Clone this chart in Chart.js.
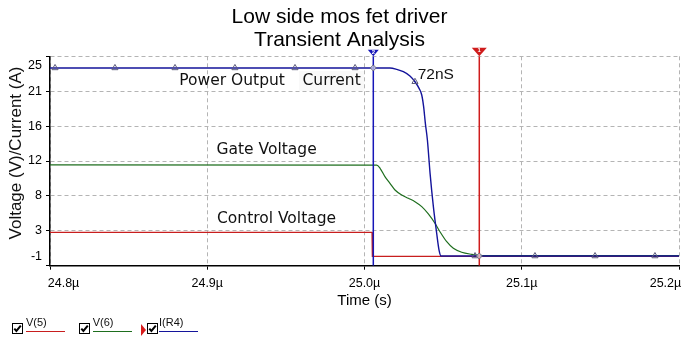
<!DOCTYPE html>
<html>
<head>
<meta charset="utf-8">
<script src="https://cdn.jsdelivr.net/npm/chart.js@4.4.1/dist/chart.umd.min.js"></script>
<style>
  html, body { margin: 0; padding: 0; background: #fff; }
  #wrap { position: relative; width: 690px; height: 344px; overflow: hidden; }
  #graph { position: absolute; left: 0; top: 0; }
  .txt { position: absolute; white-space: nowrap; line-height: 1; color: #111; }
  .note { font-family: 'DejaVu Sans', sans-serif; font-size: 15.5px; }
  .arial { font-family: 'Liberation Sans', Arial, sans-serif; }
  .ytitle { font-size: 17px; transform: translate(-50%, -50%) rotate(-90deg); }
  .cb { position: absolute; top: 323px; width: 11px; height: 11px; }
  .lg { font-size: 11px; top: 317px; }
  .lgline { position: absolute; top: 330.5px; height: 1.4px; width: 39px; }
  .flag { position: absolute; left: 140.5px; top: 323.5px; width: 0; height: 0;
          border-top: 6px solid transparent; border-bottom: 6px solid transparent; border-left: 5.5px solid #d81c1c; }
</style>
</head>
<body>
<div id="wrap">
  <canvas id="graph" width="690" height="344"></canvas>

  <div class="txt arial ytitle" style="left:14.7px; top:152.5px;">Voltage (V)/Current (A)</div>

  <div class="txt note" style="left:179.3px; top:73.2px;">Power Output</div>
  <div class="txt note" style="left:299px; top:71px; padding:2px 3.5px; background:rgba(0,0,0,0.022);">Current</div>
  <div class="txt note" style="left:216.5px; top:142px;">Gate Voltage</div>
  <div class="txt note" style="left:217px; top:211px;">Control Voltage</div>
  <div class="txt arial" style="left:417.7px; top:66px; font-size:15.5px;">72nS</div>

  <svg class="cb" style="left:11.5px;" viewBox="0 0 11 11"><rect x="0.5" y="0.5" width="10" height="10" fill="#fff" stroke="#000"/><polyline points="2.3,5.6 4.4,8 8.8,2.6" fill="none" stroke="#000" stroke-width="2"/></svg>
  <div class="txt arial lg" style="left:26px;">V(5)</div>
  <div class="lgline" style="left:26px; background:#c81e1e;"></div>

  <svg class="cb" style="left:79px;" viewBox="0 0 11 11"><rect x="0.5" y="0.5" width="10" height="10" fill="#fff" stroke="#000"/><polyline points="2.3,5.6 4.4,8 8.8,2.6" fill="none" stroke="#000" stroke-width="2"/></svg>
  <div class="txt arial lg" style="left:92.7px;">V(6)</div>
  <div class="lgline" style="left:93px; background:#1e6e1e;"></div>

  <div class="flag"></div>
  <svg class="cb" style="left:146.5px;" viewBox="0 0 11 11"><rect x="0.5" y="0.5" width="10" height="10" fill="#fff" stroke="#000"/><polyline points="2.3,5.6 4.4,8 8.8,2.6" fill="none" stroke="#000" stroke-width="2"/></svg>
  <div class="txt arial lg" style="left:159px;">I(R4)</div>
  <div class="lgline" style="left:159px; background:#14149b;"></div>
</div>

<script>
// time in microseconds
const ctrlT = [24.8, 25.0048, 25.0050, 25.2];
const ctrlV = [2.8, 2.8, -0.3, -0.3];

const gateT = [24.8, 25.0078, 25.0099, 25.0130, 25.0162, 25.0194, 25.0237, 25.0279, 25.0321, 25.0364,
               25.0406, 25.0448, 25.0480, 25.0523, 25.0565, 25.0618, 25.0682, 25.0734, 25.0830, 25.2];
const gateV = [11.5, 11.48, 11.06, 9.98, 9.12, 8.26, 7.62, 7.19, 6.75, 6.11,
               5.17, 3.97, 2.88, 1.59, 0.74, 0.23, -0.03, -0.16, -0.2, -0.2];

const curT = [24.8, 25.0162, 25.0205, 25.0247, 25.0289, 25.0321, 25.0347, 25.0364, 25.0376, 25.0387,
              25.0400, 25.0417, 25.0438, 25.0459, 25.0474, 25.0487, 25.2];
const curV = [24.0, 24.0, 23.82, 23.51, 22.96, 22.22, 21.37, 20.51, 19.0, 16.86,
              14.71, 10.41, 6.11, 2.68, 0.52, -0.25, -0.25];

const markT = [24.8032, 24.8413, 24.8795, 24.9176, 24.9558, 24.9940, 25.0321, 25.0703, 25.1084, 25.1466, 25.1847];
const markV = [24.0, 24.0, 24.0, 24.0, 24.0, 24.0, 22.22, -0.25, -0.25, -0.25, -0.25];

const cursorT = [25.073, 25.0056];
const cursorHitV = [-0.25, 24.0];
const cursorColors = ['#cf1c1c', '#1616b8'];

const xGrid = [24.8, 24.9, 25.0, 25.1, 25.2];
const xTickLabels = ['24.8µ', '24.9µ', '25.0µ', '25.1µ', '25.2µ'];
const yGrid = [-1.5, 3, 7.5, 12, 16.5, 21, 25.5];
const yTickLabels = ['-1', '3', '8', '12', '16', '21', '25'];

const xy = (ts, vs) => ts.map((t, i) => ({ x: t, y: vs[i] }));

// end labels sit a little inside the plot, like the simulator draws them
function edgeTicks(values, labels, shift) {
    const n = values.length - 1;
    const ticks = values.map((v, i) => ({ value: v, text: (i === 0 || i === n) ? '' : labels[i] }));
    ticks.push({ value: values[0] + shift, text: labels[0], labelOnly: true });
    ticks.push({ value: values[n] - shift, text: labels[n], labelOnly: true });
    return ticks.sort((a, b) => a.value - b.value);
}

const gridColor = ctx => (ctx.tick && ctx.tick.labelOnly) ? 'rgba(0,0,0,0)' : '#b4b4b4';
const tickColor = ctx => (ctx.tick && ctx.tick.labelOnly) ? 'rgba(0,0,0,0)' : '#000';

const cursorFlags = {
    id: 'cursorFlags',
    afterDatasetsDraw(chart) {
        const { ctx, chartArea, scales: { x } } = chart;
        cursorT.forEach((t, i) => {
            const px = x.getPixelForValue(t);
            const w = i === 0 ? 7.5 : 5.5;
            const h = i === 0 ? 8.5 : 6.5;
            const top = chartArea.top;
            ctx.save();
            ctx.fillStyle = cursorColors[i];
            ctx.beginPath();
            ctx.moveTo(px - w, top - h);
            ctx.lineTo(px + w, top - h);
            ctx.lineTo(px, top);
            ctx.closePath();
            ctx.fill();
            ctx.fillStyle = '#fff';
            ctx.font = 'bold 6px "Liberation Sans"';
            ctx.textAlign = 'center';
            ctx.textBaseline = 'middle';
            ctx.fillText(String(i + 1), px, top - h + 2.8);
            ctx.restore();
        });
    }
};

const graph = document.getElementById('graph').getContext('2d');

new Chart(graph, {
    type: 'line',
    data: {
        datasets: [
            ...cursorT.map((t, i) => ({
                label: 'cursor ' + (i + 1),
                data: [{ x: t, y: yGrid[0] }, { x: t, y: cursorHitV[i] }, { x: t, y: yGrid[yGrid.length - 1] }],
                borderColor: cursorColors[i],
                borderWidth: 1.5,
                pointRadius: ctx => ctx.dataIndex === 1 ? 3 : 0,
                pointStyle: 'rectRot',
                pointBorderColor: '#6a6a7a',
                pointBackgroundColor: 'rgba(255,255,255,0.6)',
                pointBorderWidth: 1
            })),
            {
                label: 'I(R4) markers',
                data: xy(markT, markV),
                showLine: false,
                pointStyle: 'triangle',
                pointRadius: 3.5,
                pointBorderColor: '#5c5c7c',
                pointBackgroundColor: 'rgba(0,0,0,0)',
                pointBorderWidth: 1
            },
            {
                label: 'I(R4)',
                data: xy(curT, curV),
                borderColor: '#14149b',
                borderWidth: 1.4,
                pointRadius: 0,
                cubicInterpolationMode: 'monotone'
            },
            {
                label: 'V(6)',
                data: xy(gateT, gateV),
                borderColor: '#1e6e1e',
                borderWidth: 1.2,
                pointRadius: 0,
                cubicInterpolationMode: 'monotone'
            },
            {
                label: 'V(5)',
                data: xy(ctrlT, ctrlV),
                borderColor: '#c81e1e',
                borderWidth: 1.3,
                pointRadius: 0
            }
        ]
    },
    options: {
        responsive: false,
        animation: false,
        layout: { padding: { top: 0, left: 0, right: 11, bottom: 34 } },
        plugins: {
            legend: { display: false },
            tooltip: { enabled: false },
            title: {
                display: true,
                text: ['Low side mos fet driver', 'Transient Analysis'],
                color: '#000',
                font: { family: 'Liberation Sans', size: 21, weight: 'normal', lineHeight: '23px' },
                padding: { top: 5.5, bottom: 4.8 }
            }
        },
        scales: {
            x: {
                type: 'linear',
                min: xGrid[0],
                max: xGrid[xGrid.length - 1],
                afterBuildTicks: s => { s.ticks = edgeTicks(xGrid, xTickLabels, 0.0086); },
                afterFit: s => { s.height = 44.3; },
                ticks: {
                    autoSkip: false,
                    maxRotation: 0,
                    padding: 6,
                    color: '#000',
                    font: { family: 'Liberation Sans', size: 12.5 },
                    callback: (v, i, ticks) => ticks[i].text
                },
                grid: { color: gridColor, tickColor: tickColor, tickLength: 4, tickBorderDash: [], lineWidth: 1 },
                border: { color: '#000', width: 1.5, dash: [4, 3] },
                title: {
                    display: true,
                    text: 'Time (s)',
                    color: '#000',
                    font: { family: 'Liberation Sans', size: 15 },
                    padding: { top: 0, bottom: 0.5 }
                }
            },
            y: {
                min: yGrid[0],
                max: yGrid[yGrid.length - 1],
                afterBuildTicks: s => { s.ticks = edgeTicks(yGrid, yTickLabels, 1.15); },
                afterFit: s => { s.width = 50; },
                ticks: {
                    autoSkip: false,
                    padding: 4,
                    color: '#000',
                    font: { family: 'Liberation Sans', size: 12.5 },
                    callback: (v, i, ticks) => ticks[i].text
                },
                grid: { color: gridColor, tickColor: tickColor, tickLength: 4, tickBorderDash: [], lineWidth: 1 },
                border: { color: '#000', width: 1.5, dash: [4, 3] }
            }
        }
    },
    plugins: [cursorFlags]
});
</script>
</body>
</html>
